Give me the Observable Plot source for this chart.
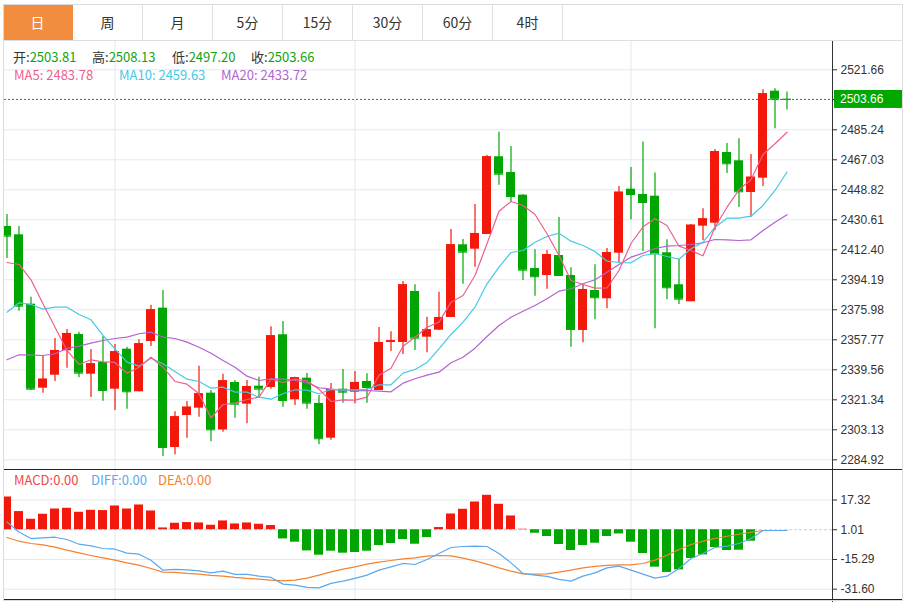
<!DOCTYPE html>
<html><head><meta charset="utf-8">
<script src="https://cdn.jsdelivr.net/npm/d3@7"></script>
<script src="https://cdn.jsdelivr.net/npm/@observablehq/plot@0.6"></script>
<style>
body{margin:0;background:#fff;}
#wrap{position:relative;width:907px;height:602px;overflow:hidden;font-family:"Noto Sans CJK SC","Noto Sans",sans-serif;background:#fff;}
#wrap svg{position:absolute;left:0;}
.tabs{position:absolute;left:3px;top:4px;width:900px;height:37px;display:flex;border-top:1px solid #dcdfe3;border-bottom:1px solid #dcdfe3;box-sizing:border-box;background:#fff;z-index:3;}
.tab{width:70px;flex:none;border-right:1px solid #dcdfe3;text-align:center;line-height:35px;font-size:14px;color:#333;box-sizing:border-box;}
.tab.on{background:#f28c3f;color:#fff;border-right-color:#f28c3f;}
.lg{position:absolute;font-size:13px;line-height:18px;white-space:nowrap;z-index:4;}
.line{position:absolute;z-index:5;}
#frame{position:absolute;left:3px;top:4px;width:900px;height:597px;border:1px solid #dcdcdc;box-sizing:border-box;z-index:6;pointer-events:none;}
</style></head>
<body>
<div id="wrap"></div>
<script>
// ---------- data ----------
const tabs = ["日","周","月","5分","15分","30分","60分","4时"];
const open  = [2426.55,2421.51,2379.38,2328.40,2336.29,2351.10,2360.99,2336.89,2344.00,2327.79,2352.07,2326.21,2356.74,2376.96,2292.40,2311.82,2316.26,2325.36,2303.02,2331.86,2318.68,2329.61,2328.82,2360.81,2321.35,2334.47,2319.11,2298.05,2327.79,2325.97,2332.46,2327.00,2356.14,2356.14,2387.09,2359.35,2363.60,2371.31,2415.44,2412.77,2421.69,2468.86,2459.33,2445.55,2401.05,2396.80,2408.94,2396.80,2363.42,2387.70,2382.66,2410.34,2449.19,2445.97,2444.94,2410.58,2391.16,2380.84,2426.73,2428.55,2471.47,2466.43,2447.19,2455.87,2508.68,2503.81];
const high  = [2433.83,2426.55,2383.63,2347.82,2358.56,2364.03,2362.39,2351.89,2359.78,2354.92,2353.28,2357.77,2378.78,2387.70,2314.07,2320.32,2341.75,2327.00,2336.89,2333.07,2333.07,2335.07,2365.67,2368.88,2335.07,2337.32,2323.96,2331.25,2339.75,2338.53,2337.14,2365.24,2362.63,2393.16,2391.16,2371.49,2386.67,2424.73,2418.66,2439.90,2469.64,2483.79,2475.11,2445.97,2412.40,2411.98,2432.01,2401.48,2391.16,2403.30,2413.19,2450.83,2462.36,2477.84,2459.02,2418.47,2406.52,2427.76,2437.29,2473.29,2476.93,2479.78,2470.25,2509.52,2510.13,2508.13];
const low   = [2407.12,2375.14,2327.00,2325.36,2332.46,2340.54,2334.71,2322.75,2320.51,2314.86,2315.65,2326.21,2353.71,2286.94,2287.97,2298.05,2310.79,2295.86,2301.69,2310.19,2306.79,2322.93,2327.79,2316.86,2317.89,2315.65,2294.04,2296.83,2319.29,2318.93,2319.29,2327.00,2350.67,2348.85,2351.28,2349.88,2363.42,2371.31,2391.52,2401.84,2421.69,2451.62,2441.12,2393.77,2384.24,2388.49,2396.80,2353.28,2355.95,2369.91,2376.65,2404.27,2430.61,2411.37,2364.45,2382.05,2379.20,2380.84,2418.05,2424.12,2458.72,2438.08,2432.19,2450.83,2485.85,2497.20];
const close = [2420.66,2378.17,2327.79,2333.86,2351.28,2361.60,2337.50,2343.21,2327.00,2350.49,2326.21,2355.35,2375.98,2292.40,2311.04,2316.86,2325.00,2303.14,2332.89,2318.68,2329.43,2327.79,2360.20,2320.93,2334.71,2319.29,2297.68,2327.42,2325.97,2331.86,2328.82,2356.14,2357.17,2391.16,2358.75,2363.84,2371.31,2415.44,2410.95,2422.30,2468.86,2458.29,2444.76,2400.02,2396.02,2409.55,2396.80,2364.03,2388.31,2383.27,2410.77,2447.37,2445.97,2441.12,2409.98,2389.34,2382.42,2427.34,2431.22,2472.07,2464.61,2447.61,2456.47,2507.10,2503.82,2503.66];
const ma5   = [2404.70,2403.48,2394.19,2379.63,2365.42,2351.28,2342.78,2345.63,2344.42,2344.00,2337.50,2341.14,2347.21,2341.14,2332.46,2330.82,2325.00,2310.43,2318.50,2319.29,2321.54,2322.93,2333.86,2331.86,2333.86,2332.89,2327.79,2320.32,2321.35,2321.11,2322.93,2336.29,2340.54,2353.89,2359.35,2365.42,2368.46,2380.60,2384.66,2396.80,2416.05,2435.84,2441.72,2439.29,2433.83,2422.12,2408.94,2393.77,2391.34,2389.10,2389.22,2399.84,2416.23,2426.37,2431.28,2427.15,2414.59,2411.98,2408.76,2426.12,2438.26,2448.82,2454.89,2470.25,2476.75,2483.78];
const ma10  = [2374.53,2380.23,2379.20,2376.35,2377.56,2377.56,2373.13,2369.91,2360.38,2352.31,2344.18,2341.75,2346.61,2343.21,2338.53,2333.86,2332.46,2328.40,2329.00,2325.97,2325.97,2322.93,2321.72,2325.00,2327.42,2327.18,2325.00,2327.61,2327.42,2327.42,2327.61,2330.46,2330.46,2337.50,2339.75,2344.00,2352.31,2360.99,2368.46,2377.56,2391.77,2401.84,2410.77,2411.98,2417.02,2420.48,2422.48,2417.63,2415.01,2411.37,2405.49,2404.70,2404.51,2408.94,2410.16,2408.34,2406.70,2413.01,2417.02,2426.12,2431.59,2431.59,2432.80,2439.29,2448.40,2459.63];
const ma20  = [2345.63,2348.67,2348.43,2348.24,2349.28,2352.49,2353.89,2355.71,2357.35,2358.56,2359.35,2361.42,2362.39,2359.35,2358.56,2356.32,2353.28,2349.64,2345.21,2341.14,2335.68,2333.07,2334.10,2333.86,2333.07,2331.67,2328.64,2327.79,2327.00,2326.82,2327.00,2326.58,2326.21,2331.43,2334.10,2336.29,2338.11,2343.81,2347.21,2352.68,2359.78,2366.45,2371.49,2375.14,2378.59,2382.66,2387.28,2388.73,2391.77,2394.19,2398.81,2403.48,2407.91,2410.34,2413.19,2414.59,2415.01,2415.62,2416.65,2418.66,2418.47,2418.05,2418.47,2424.12,2429.16,2433.72];
const macdHist = [18.96,10.97,6.76,9.49,12.39,12.78,10.59,11.68,11.52,14.04,12.39,14.58,11.30,2.00,4.57,4.95,4.73,3.47,5.83,4.18,4.73,4.02,3.31,-4.03,-5.83,-10.59,-12.95,-10.76,-11.85,-11.47,-10.76,-7.64,-6.54,-4.35,-6.93,-3.26,2.21,9.66,12.23,16.22,19.89,14.97,8.56,1.28,-0.91,-2.71,-7.09,-10.37,-7.64,-6.38,-2.71,-1.29,-5.83,-12.02,-19.51,-22.41,-20.99,-14.75,-12.78,-8.73,-10.37,-10.21,-5.28,1.01,1.01,1.01];
const diff = [5.28,-0.19,-3.81,-3.48,-3.09,-4.35,-6.93,-7.86,-9.28,-9.66,-11.85,-12.40,-15.68,-21.16,-20.77,-20.99,-21.54,-22.63,-21.70,-23.51,-23.51,-24.44,-25.15,-28.82,-29.37,-30.62,-30.84,-28.43,-27.18,-25.70,-23.89,-21.16,-19.35,-17.49,-18.04,-15.30,-12.02,-8.73,-8.18,-8.02,-8.18,-12.02,-17.16,-22.96,-23.89,-24.60,-26.25,-27.18,-24.44,-22.63,-19.90,-18.97,-21.16,-23.34,-25.53,-24.44,-20.23,-14.75,-12.02,-8.73,-8.02,-6.54,-3.81,0.6,0.6,0.6];
const dea  = [-3.26,-5.28,-6.54,-7.31,-8.57,-10.21,-11.69,-13.11,-14.42,-15.68,-17.16,-18.42,-20.23,-22.25,-22.41,-22.96,-23.34,-24.06,-24.44,-25.15,-25.70,-26.08,-26.63,-27.01,-26.63,-25.53,-23.89,-22.09,-20.61,-19.35,-17.87,-16.78,-15.85,-14.97,-14.42,-13.49,-13.11,-13.33,-14.59,-16.07,-17.87,-19.90,-21.70,-23.18,-23.34,-23.18,-22.25,-21.16,-19.90,-19.13,-18.58,-18.25,-18.25,-17.49,-15.68,-12.95,-9.83,-7.09,-5.28,-3.81,-2.55,-1.45,-0.36,0.6,0.6,0.6];
const priceTicks = [2521.66,2485.24,2467.03,2448.82,2430.61,2412.40,2394.19,2375.98,2357.77,2339.56,2321.34,2303.13,2284.92];
const macdTicks = [17.32,1.01,-15.29,-31.60];
const macdZero = 1.01;
const monthStarts = [9,29,52];
const lastClose = 2503.66;
const ohlcLabels = [["开","2503.81"],["高","2508.13"],["低","2497.20"],["收","2503.66"]];
const maLabels = [["MA5","2483.78"],["MA10","2459.63"],["MA20","2433.72"]];
const macdLabels = [["MACD","0.00"],["DIFF","0.00"],["DEA","0.00"]];

// ---------- styles ----------
const RED = "#f2190c", GREEN = "#02a602", GRID = "#e3e9ef";
const C_MA5 = "#ee5f8f", C_MA10 = "#45c9e4", C_MA20 = "#b462d0";
const C_DIFF = "#5aa9ef", C_DEA = "#f5822f", C_MACD = "#f04848";
const AXISFONT = "'Liberation Sans', Arial, sans-serif";

const wrap = document.getElementById("wrap");
const idx = d3.range(open.length);
const candles = idx.map(i => ({i, open: open[i], high: high[i], low: low[i], close: close[i]}));
const col = d => d.close >= d.open ? RED : GREEN;
const xScale = {type: "band", domain: idx, range: [-1.35, 793.95], padding: 0.275, axis: null};

// tabs
const tb = document.createElement("div"); tb.className = "tabs";
tabs.forEach((t, k) => { const d = document.createElement("div"); d.className = "tab" + (k === 0 ? " on" : ""); d.textContent = t; tb.appendChild(d); });
wrap.appendChild(tb);

// main candlestick panel
const main = Plot.plot({
  width: 907, height: 470,
  marginTop: 41, marginBottom: 1, marginLeft: 4, marginRight: 75,
  x: xScale,
  y: {domain: [2284.92, 2521.66], range: [459.3, 69.3], axis: "right", label: null,
      ticks: [...priceTicks, lastClose], tickFormat: d => d === lastClose ? "" : d.toFixed(2), tickSize: 4, tickPadding: 4},
  style: {background: "transparent", fontSize: "12px", fontFamily: AXISFONT, color: "#333", overflow: "visible"},
  marks: [
    Plot.gridY(priceTicks, {stroke: GRID, strokeOpacity: 1}),
    Plot.ruleX(monthStarts, {x: d => d, stroke: GRID, strokeOpacity: 1}),
    Plot.ruleY([lastClose], {stroke: "#179c17", strokeDasharray: "2,2", strokeWidth: 1}),
    Plot.ruleX(candles, {x: "i", y1: "low", y2: "high", stroke: col, strokeWidth: 1.2, clip: true}),
    Plot.barY(candles, {x: "i", y1: "open", y2: "close", fill: col, clip: true}),
    Plot.tickY(candles, {x: "i", y: "close", stroke: col, clip: true}),
    Plot.line(idx, {x: i => i, y: i => ma20[i], stroke: C_MA20, strokeWidth: 1.2, clip: true}),
    Plot.line(idx, {x: i => i, y: i => ma10[i], stroke: C_MA10, strokeWidth: 1.2, clip: true}),
    Plot.line(idx, {x: i => i, y: i => ma5[i], stroke: C_MA5, strokeWidth: 1.2, clip: true})
  ]
});
main.style.top = "0px";
wrap.appendChild(main);

// last price label on the axis
{
  const sc = main.scale("y");
  const yp = sc.apply ? sc.apply(lastClose) : sc.range[0] + (lastClose - sc.domain[0]) / (sc.domain[1] - sc.domain[0]) * (sc.range[1] - sc.range[0]);
  const g = d3.select(main).append("g");
  g.append("rect").attr("x", 834).attr("y", yp - 9).attr("width", 69).attr("height", 18).attr("fill", "#00a800");
  g.append("text").attr("x", 840).attr("y", yp).attr("dy", "0.35em").attr("fill", "#fff")
    .attr("text-anchor", "start").attr("font-size", 12).attr("font-family", AXISFONT).text(lastClose.toFixed(2));
}

// MACD panel
const macd = Plot.plot({
  width: 907, height: 132,
  marginTop: 0, marginBottom: 3, marginLeft: 4, marginRight: 75,
  x: xScale,
  y: {domain: [-31.60, 17.32], range: [118.7, 29.5], axis: "right", label: null,
      ticks: macdTicks, tickFormat: d => d.toFixed(2), tickSize: 4, tickPadding: 4},
  style: {background: "transparent", fontSize: "12px", fontFamily: AXISFONT, color: "#333", overflow: "visible"},
  marks: [
    Plot.gridY(macdTicks.filter(t => t !== macdZero), {stroke: GRID, strokeOpacity: 1}),
    Plot.ruleX(monthStarts, {x: d => d, stroke: GRID, strokeOpacity: 1}),
    Plot.ruleY([macdZero], {stroke: "#a6dbf5", strokeDasharray: "3,2"}),
    Plot.barY(idx, {x: i => i, y1: macdZero, y2: i => macdHist[i], fill: i => macdHist[i] >= macdZero ? RED : GREEN, clip: true}),
    Plot.line(idx, {x: i => i, y: i => dea[i], stroke: C_DEA, strokeWidth: 1.2, clip: true}),
    Plot.line(idx, {x: i => i, y: i => diff[i], stroke: C_DIFF, strokeWidth: 1.2, clip: true})
  ]
});
macd.style.top = "470px";
wrap.appendChild(macd);

// legends
function legendItem(left, top, label, value, labelColor, valueColor, sep) {
  const s = document.createElement("div"); s.className = "lg";
  s.style.left = left + "px"; s.style.top = top + "px";
  const a = document.createElement("span"); a.textContent = label + sep; a.style.color = labelColor;
  const b = document.createElement("span"); b.textContent = value; b.style.color = valueColor;
  s.appendChild(a); s.appendChild(b); wrap.appendChild(s);
}
const ohlcX = [13, 92, 172, 251];
ohlcLabels.forEach(([l, v], k) => legendItem(ohlcX[k], 48, l, v, "#333", "#12a312", ":"));
const maX = [14, 119, 221], maC = [C_MA5, C_MA10, C_MA20];
maLabels.forEach(([l, v], k) => legendItem(maX[k], 66, l, v, maC[k], maC[k], ": "));
const mX = [14, 91, 158], mC = [C_MACD, C_DIFF, C_DEA];
macdLabels.forEach(([l, v], k) => legendItem(mX[k], 471, l, v, mC[k], mC[k], ":"));

// frame lines
function line(l, t, w, h, c) { const d = document.createElement("div"); d.className = "line"; Object.assign(d.style, {left: l + "px", top: t + "px", width: w + "px", height: h + "px", background: c}); wrap.appendChild(d); }
line(832, 41, 1, 561, "#333");
line(3, 469, 900, 1, "#222");
line(3, 599, 900, 1, "#222");
const fr = document.createElement("div"); fr.id = "frame"; wrap.appendChild(fr);
</script>
</body></html>
